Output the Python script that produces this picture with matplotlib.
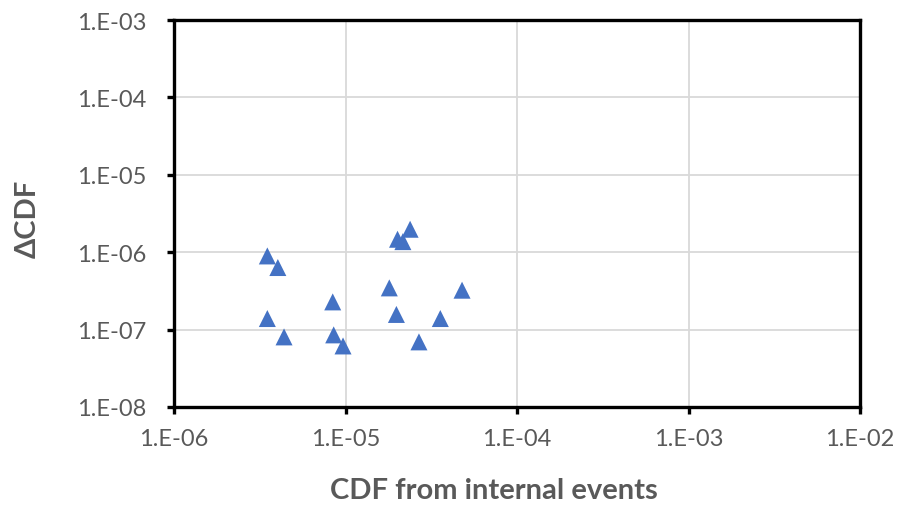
import matplotlib
matplotlib.use("Agg")
import matplotlib.pyplot as plt
from matplotlib.ticker import FixedLocator, NullLocator

# CDF from internal events vs delta CDF
cdf_internal = [3.50e-6, 4.03e-6, 3.50e-6, 4.38e-6, 8.42e-6, 8.53e-6, 9.67e-6,
                1.80e-5, 1.98e-5, 2.01e-5, 2.16e-5, 2.38e-5, 2.68e-5, 3.57e-5, 4.78e-5]
delta_cdf = [8.95e-7, 6.34e-7, 1.39e-7, 8.05e-8, 2.28e-7, 8.55e-8, 6.15e-8,
             3.46e-7, 1.57e-7, 1.47e-6, 1.37e-6, 1.98e-6, 6.94e-8, 1.39e-7, 3.23e-7]

x_ticks = [1e-6, 1e-5, 1e-4, 1e-3, 1e-2]
x_labels = ["1.E-06", "1.E-05", "1.E-04", "1.E-03", "1.E-02"]
y_ticks = [1e-8, 1e-7, 1e-6, 1e-5, 1e-4, 1e-3]
y_labels = ["1.E-08", "1.E-07", "1.E-06", "1.E-05", "1.E-04", "1.E-03"]

plt.rcParams['font.family'] = ['Lato', 'DejaVu Sans']

fig = plt.figure(figsize=(8.98, 5.10), dpi=100)
ax = fig.add_axes([0.1938, 0.2, 0.9577 - 0.1938, 0.9588 - 0.2])

ax.scatter(cdf_internal, delta_cdf, marker='^', s=150, color='#4472C4',
           edgecolors='none', zorder=3)

ax.set_xscale('log')
ax.set_yscale('log')
ax.set_xlim(1e-6, 1e-2)
ax.set_ylim(1e-8, 1e-3)

ax.xaxis.set_major_locator(FixedLocator(x_ticks))
ax.yaxis.set_major_locator(FixedLocator(y_ticks))
ax.xaxis.set_minor_locator(NullLocator())
ax.yaxis.set_minor_locator(NullLocator())
ax.set_xticklabels(x_labels)
ax.set_yticklabels(y_labels)

ax.grid(True, color='#d9d9d9', linewidth=1.3, zorder=0)
ax.set_axisbelow(True)

for sp in ax.spines.values():
    sp.set_linewidth(2.4)
    sp.set_color('black')

ax.tick_params(axis='both', direction='out', length=5, width=2.4,
               labelsize=17, labelcolor='#595959', color='black')
ax.tick_params(axis='x', pad=10)
ax.tick_params(axis='y', pad=15)

ax.set_xlabel('CDF from internal events', fontsize=21, fontweight='bold',
              color='#595959')
ax.set_ylabel('\u0394CDF', fontsize=21, fontweight='bold', color='#595959')
ax.xaxis.set_label_coords(0.466, -0.18)
ax.yaxis.set_label_coords(-0.195, 0.49)

fig.savefig('out.png', dpi=100)
